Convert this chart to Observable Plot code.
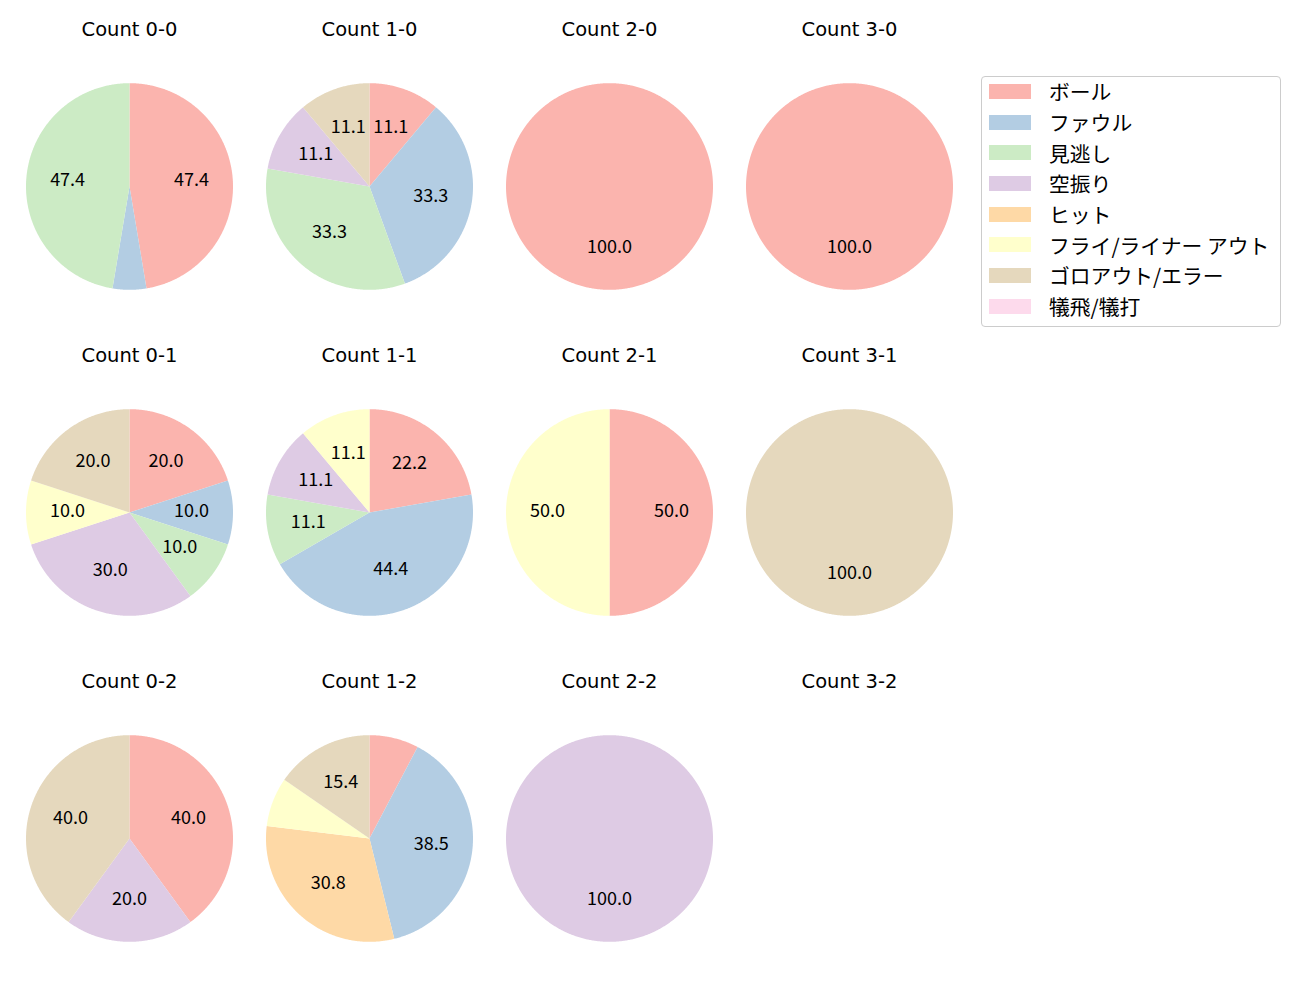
<!DOCTYPE html>
<html><head><meta charset="utf-8">
<script src="https://cdn.jsdelivr.net/npm/d3@7"></script>
<script src="https://cdn.jsdelivr.net/npm/@observablehq/plot@0.6"></script>
<style>
html,body{margin:0;padding:0;background:#fff;overflow:hidden;}
#wrap{position:relative;width:1300px;height:1000px;font-family:"Noto Sans CJK JP",sans-serif;}
#chart{position:absolute;left:0;top:0;}
#legend{position:absolute;left:981px;top:76px;width:298px;height:249px;border:1px solid #cccccc;border-radius:4px;}
#rows{position:relative;top:-0.8px;}
.row{height:30.7px;display:flex;align-items:center;}
.sw{width:42px;height:15px;margin-left:7px;margin-right:18px;flex:none;}
.lb{font-size:20.8px;color:#000;white-space:nowrap;line-height:1;}
</style></head><body>
<div id="wrap"><div id="chart"></div><div id="legend"><div id="rows"></div></div></div>
<script>
// categories (legend order) and their colours
const categories = ["ボール","ファウル","見逃し","空振り","ヒット","フライ/ライナー アウト","ゴロアウト/エラー","犠飛/犠打"];
const colors = ["#fbb4ae","#b3cde3","#ccebc5","#decbe4","#fed9a6","#ffffcc","#e5d8bd","#fddaec"];
const balls = [0, 1, 2, 3];
const strikes = [0, 1, 2];
// pitch-result counts per ball-strike count, in category order
const count00 = [9, 1, 9, 0, 0, 0, 0, 0];
const count10 = [1, 3, 3, 1, 0, 0, 1, 0];
const count20 = [1, 0, 0, 0, 0, 0, 0, 0];
const count30 = [1, 0, 0, 0, 0, 0, 0, 0];
const count01 = [2, 1, 1, 3, 0, 1, 2, 0];
const count11 = [2, 4, 1, 1, 0, 1, 0, 0];
const count21 = [1, 0, 0, 0, 0, 1, 0, 0];
const count31 = [0, 0, 0, 0, 0, 0, 1, 0];
const count02 = [2, 0, 0, 1, 0, 0, 2, 0];
const count12 = [1, 5, 0, 0, 4, 1, 2, 0];
const count22 = [0, 0, 0, 1, 0, 0, 0, 0];
const count32 = [0, 0, 0, 0, 0, 0, 0, 0];

const panels = [
  [0,0,count00],[1,0,count10],[2,0,count20],[3,0,count30],
  [0,1,count01],[1,1,count11],[2,1,count21],[3,1,count31],
  [0,2,count02],[1,2,count12],[2,2,count22],[3,2,count32]
];

const pts = [], labels = [], titles = [];
for (const [b, s, v] of panels) {
  titles.push({b, s, title: `Count ${b}-${s}`});
  const total = d3.sum(v);
  if (!total) continue;
  const arcs = d3.pie().sort(null).value(d => d.value)(categories.map((c, i) => ({cat: c, value: v[i]})));
  arcs.forEach((a, i) => {
    if (!a.data.value) return;
    const id = `${b}-${s}-${i}`;
    const n = Math.max(2, Math.ceil((a.endAngle - a.startAngle) / (Math.PI / 360)));
    pts.push({id, b, s, cat: a.data.cat, x: 0, y: 0});
    for (let k = 0; k <= n; k++) {
      const t = a.startAngle + (a.endAngle - a.startAngle) * k / n;
      pts.push({id, b, s, cat: a.data.cat, x: Math.sin(t), y: Math.cos(t)});
    }
    const pct = a.data.value / total * 100;
    if (pct >= 10) {
      const m = (a.startAngle + a.endAngle) / 2;
      labels.push({b, s, x: 0.6 * Math.sin(m), y: 0.6 * Math.cos(m), text: pct.toFixed(1)});
    }
  });
}

const R = 103.5, bandW = 240, bandH = 326.5;
const xr = bandW / 2 / R, yr = bandH / 2 / R;

const chart = Plot.plot({
  width: 969, height: 1002,
  marginLeft: 9, marginRight: 0, marginTop: 22.5, marginBottom: 0,
  facet: {marginTop: 0, marginRight: 0, marginBottom: 0, marginLeft: 0},
  fx: {domain: balls, padding: 0, axis: null},
  fy: {domain: strikes, padding: 0, axis: null},
  x: {domain: [-xr, xr], axis: null},
  y: {domain: [-yr, yr], axis: null},
  color: {domain: categories, range: colors},
  style: {fontFamily: '"Noto Sans CJK JP", sans-serif', background: "#fff"},
  marks: [
    Plot.line(pts, {x: "x", y: "y", z: "id", fx: "b", fy: "s", fill: "cat", stroke: "none", curve: "linear"}),
    Plot.text(labels, {x: "x", y: "y", fx: "b", fy: "s", text: "text", fontSize: 18, dy: -1.5, fill: "#000"}),
    Plot.text(titles, {fx: "b", fy: "s", frameAnchor: "top", lineAnchor: "middle", dy: 6.5, text: "title",
      fontSize: 19.5, fontFamily: '"DejaVu Sans", sans-serif', fill: "#000"})
  ]
});
document.getElementById("chart").appendChild(chart);

const rows = document.getElementById("rows");
categories.forEach((c, i) => {
  const row = document.createElement("div"); row.className = "row";
  const sw = document.createElement("div"); sw.className = "sw"; sw.style.background = colors[i];
  const lb = document.createElement("span"); lb.className = "lb"; lb.textContent = c;
  row.appendChild(sw); row.appendChild(lb); rows.appendChild(row);
});
</script>
</body></html>
